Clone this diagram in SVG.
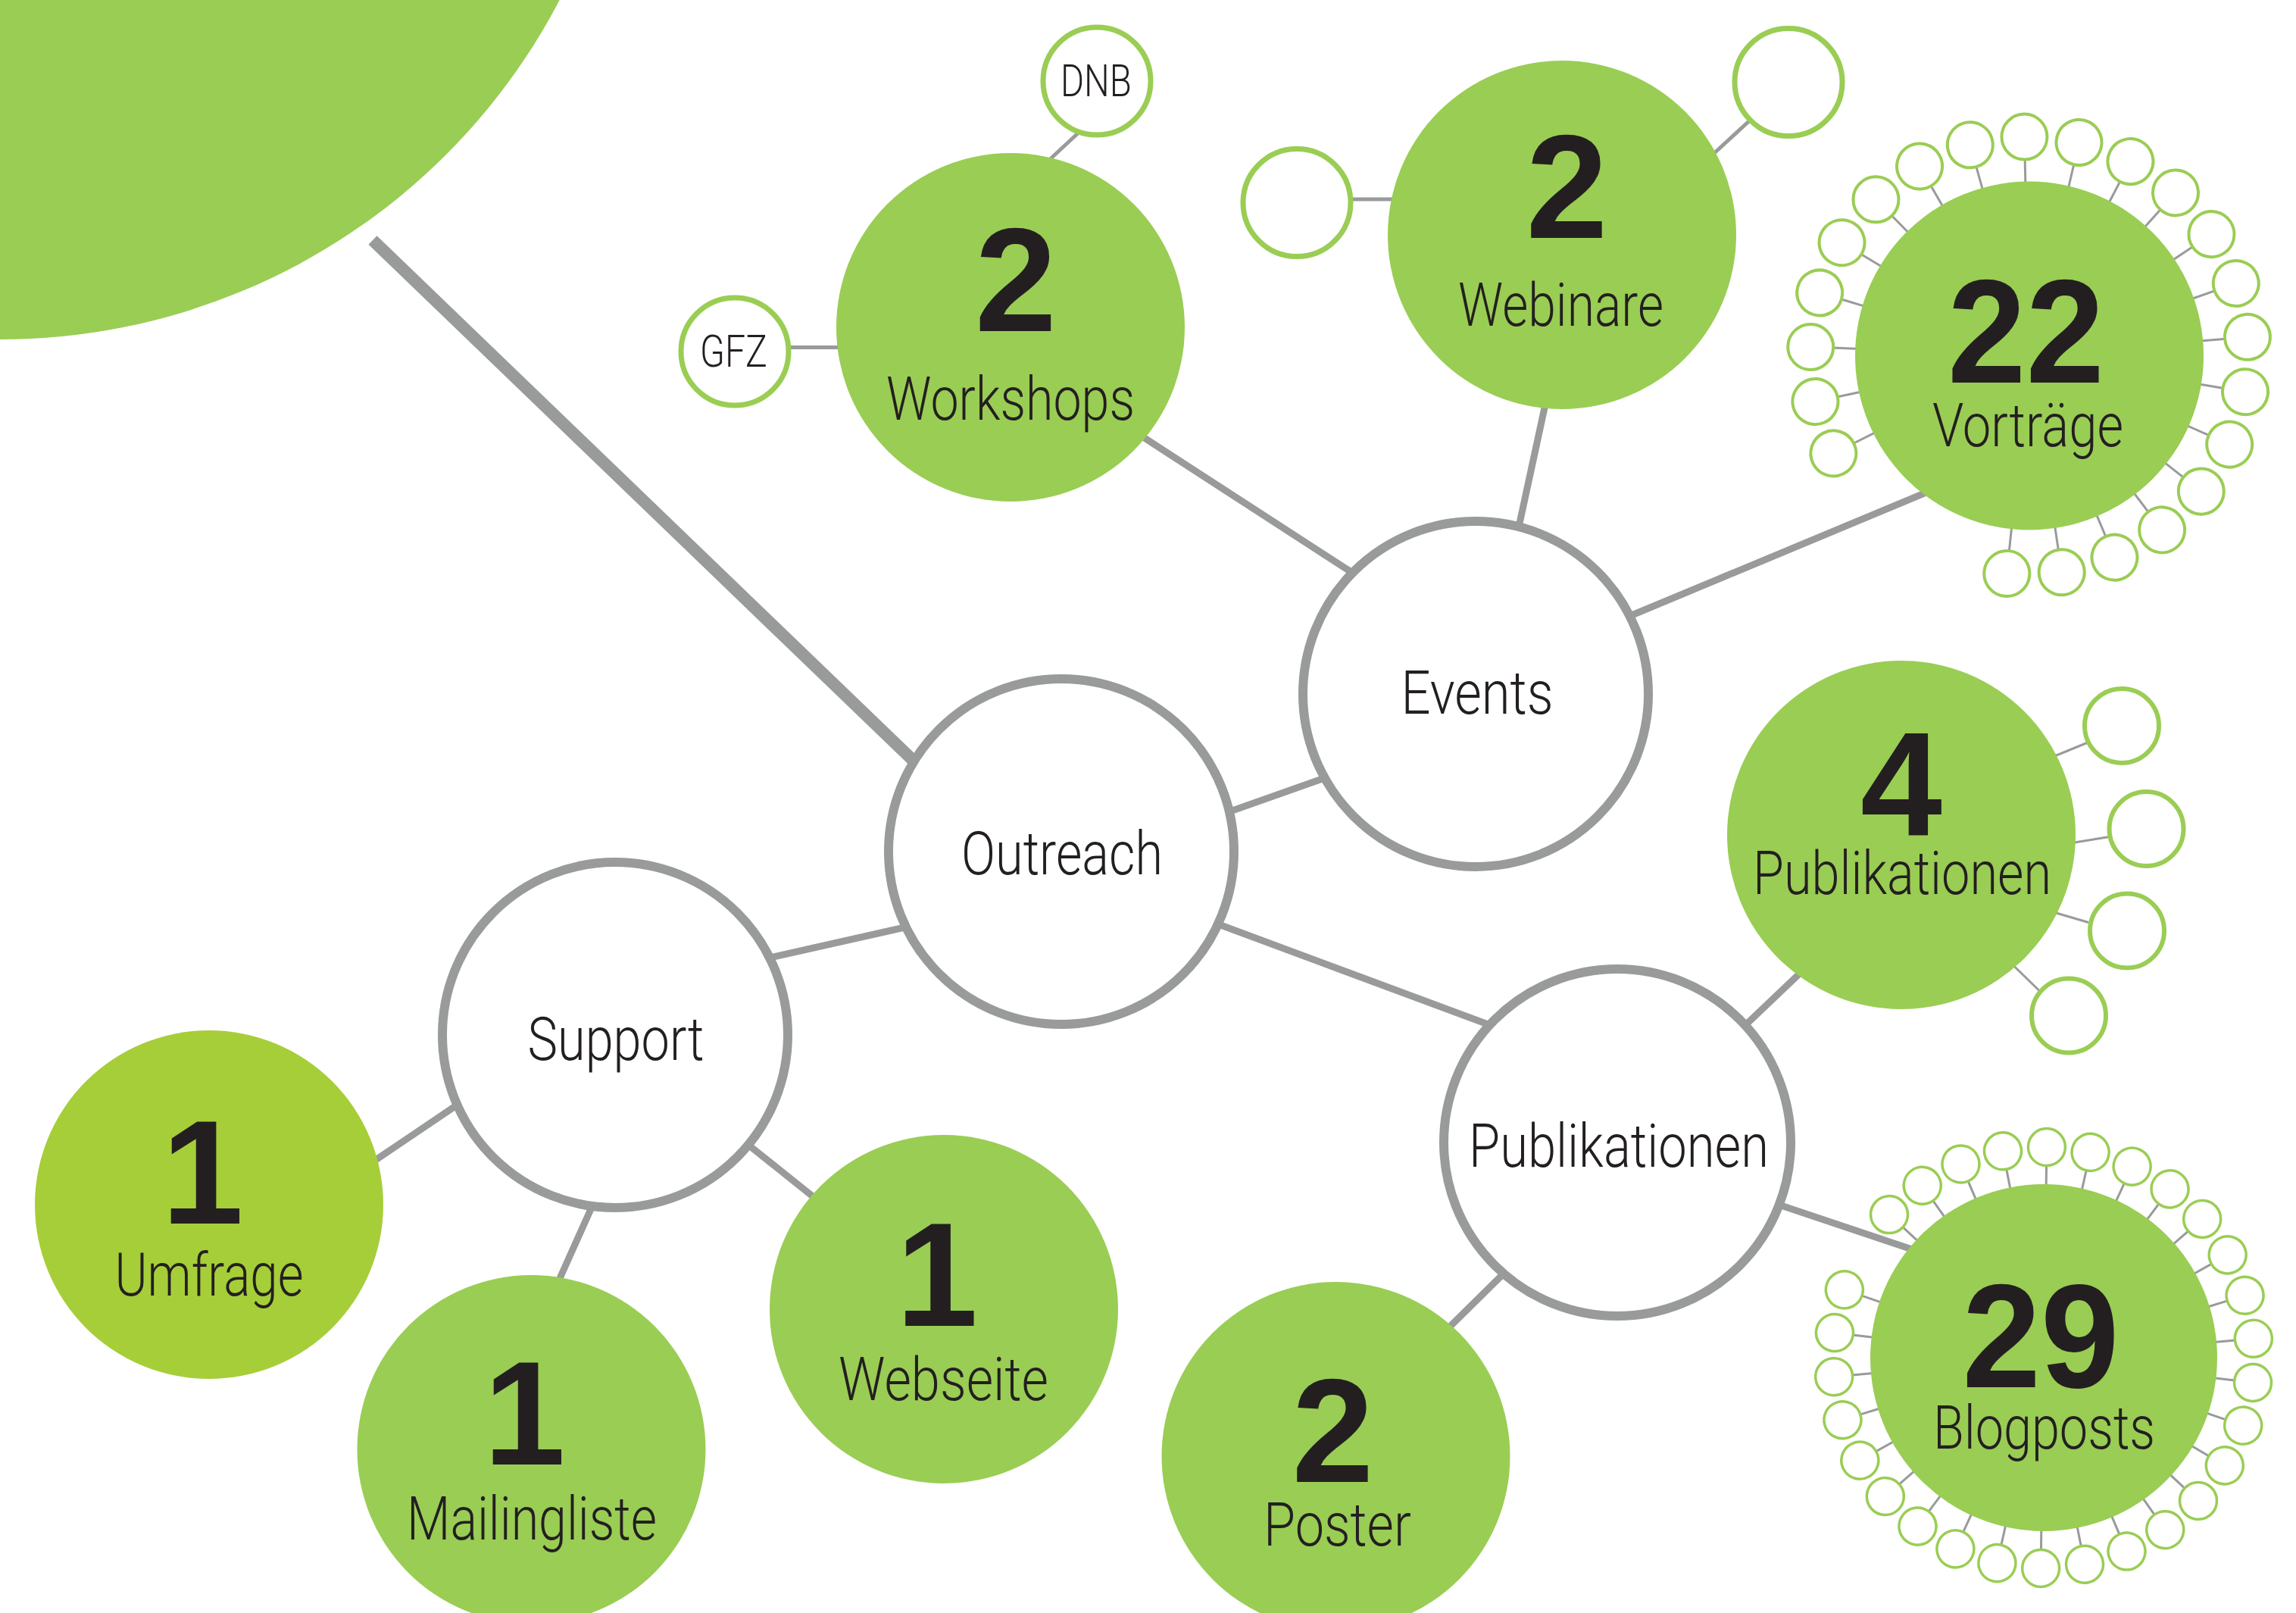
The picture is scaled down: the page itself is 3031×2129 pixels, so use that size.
<svg xmlns="http://www.w3.org/2000/svg" xmlns:xlink="http://www.w3.org/1999/xlink" width="3031" height="2129" viewBox="0 0 3031 2129">
<style>
.bg{fill:#fff}
.green{fill:#9ACD54}
.hub{fill:#fff;stroke:#999A9A;stroke-width:12}
.con{stroke:#999A9A;stroke-width:9;fill:none}
.con-thick{stroke:#999A9A;stroke-width:16;fill:none}
.con-thin{stroke:#999A9A;stroke-width:5;fill:none}
.spoke{stroke:#999A9A;stroke-width:3}
.sat{fill:#fff;stroke:#9ACD54}
.lbl{font-family:Roboto,"Liberation Sans Narrow","Liberation Sans",Arial,sans-serif;font-weight:300;font-size:80px;fill:#231F20;text-anchor:middle}
.num{font-family:"Liberation Sans","DejaVu Sans",Arial,sans-serif;font-weight:bold;font-size:194px;fill:#231F20;text-anchor:middle}
.small{font-family:Roboto,"Liberation Sans Narrow","Liberation Sans",Arial,sans-serif;font-weight:300;font-size:59px;fill:#231F20;text-anchor:middle}
</style>
<defs>
<g id="sat-v"><line class="spoke" x1="224" y1="0" x2="260" y2="0"/><circle class="sat" cx="289" cy="0" r="30" stroke-width="4"/></g>
<g id="sat-b"><line class="spoke" x1="224" y1="0" x2="254" y2="0"/><circle class="sat" cx="278" cy="0" r="24.5" stroke-width="3.5"/></g>
</defs>
<rect class="bg" x="0" y="0" width="3031" height="2129"/>
<circle class="green" cx="0" cy="-385" r="833"/>

<g id="connectors">
<line class="con-thick" x1="492" y1="317" x2="1212" y2="1010"/>
<line class="con" x1="490" y1="1535" x2="607" y2="1456"/>
<line class="con" x1="736" y1="1694" x2="784" y2="1587"/>
<line class="con" x1="984" y1="1508" x2="1079" y2="1584"/>
<line class="con" x1="1012" y1="1265" x2="1199" y2="1223"/>
<line class="con" x1="1621" y1="1072" x2="1754" y2="1025"/>
<line class="con" x1="1606" y1="1219" x2="1975" y2="1356"/>
<line class="con" x1="1500" y1="571" x2="1790" y2="759"/>
<line class="con" x1="2041" y1="529" x2="2004" y2="700"/>
<line class="con" x1="2147" y1="815" x2="2550" y2="647"/>
<line class="con" x1="2300" y1="1357" x2="2382" y2="1279"/>
<line class="con" x1="2345" y1="1589" x2="2527" y2="1650"/>
<line class="con" x1="1910" y1="1755" x2="1988" y2="1678"/>
<line class="con-thin" x1="1040" y1="458.5" x2="1110" y2="458.5"/>
<line class="con-thin" x1="1425" y1="174" x2="1382" y2="214" stroke-width="4"/>
<line class="con-thin" x1="1783" y1="263" x2="1842" y2="263"/>
<line class="con-thin" x1="2311" y1="158" x2="2261" y2="204" stroke-width="4"/>
<line class="spoke" x1="2709.8" y1="999" x2="2755" y2="980.5" stroke-width="3.5"/>
<line class="spoke" x1="2735.7" y1="1112.5" x2="2783" y2="1104.7" stroke-width="3.5"/>
<line class="spoke" x1="2711" y1="1204" x2="2757" y2="1217.5" stroke-width="3.5"/>
<line class="spoke" x1="2657.6" y1="1274" x2="2692" y2="1307.5" stroke-width="3.5"/>
</g>

<g id="node-outreach">
<circle class="hub" cx="1401" cy="1124" r="228"/>
<text class="lbl" x="1402" y="1154" textLength="266" lengthAdjust="spacingAndGlyphs">Outreach</text>
</g>
<g id="node-events">
<circle class="hub" cx="1948" cy="916" r="228"/>
<text class="lbl" x="1950" y="942" textLength="201" lengthAdjust="spacingAndGlyphs">Events</text>
</g>
<g id="node-support">
<circle class="hub" cx="812" cy="1366" r="228"/>
<text class="lbl" x="813" y="1399" textLength="233" lengthAdjust="spacingAndGlyphs">Support</text>
</g>
<g id="node-publikationen">
<circle class="hub" cx="2135" cy="1508" r="229"/>
<text class="lbl" x="2137" y="1540" textLength="396" lengthAdjust="spacingAndGlyphs">Publikationen</text>
</g>

<g id="node-workshops">
<circle class="green" cx="1334" cy="432" r="230"/>
<text class="num" x="1341" y="437">2</text>
<text class="lbl" x="1334" y="554" textLength="328" lengthAdjust="spacingAndGlyphs">Workshops</text>
</g>
<g id="node-gfz">
<circle class="sat" cx="970" cy="464" r="71" stroke-width="7"/>
<text class="small" x="968.4" y="483.5" textLength="89" lengthAdjust="spacingAndGlyphs">GFZ</text>
</g>
<g id="node-dnb">
<circle class="sat" cx="1448" cy="107" r="71" stroke-width="7"/>
<text class="small" x="1447" y="127" textLength="94" lengthAdjust="spacingAndGlyphs">DNB</text>
</g>

<g id="node-webinare">
<circle class="green" cx="2062" cy="310" r="230"/>
<text class="num" x="2068.5" y="314">2</text>
<text class="lbl" x="2060.5" y="430" textLength="271" lengthAdjust="spacingAndGlyphs">Webinare</text>
</g>
<g id="node-webinar-1"><circle class="sat" cx="1712" cy="267.5" r="71" stroke-width="7"/></g>
<g id="node-webinar-2"><circle class="sat" cx="2361" cy="108.5" r="71" stroke-width="7"/></g>

<g id="node-vortraege">
<g transform="translate(2679 469.5)">
<use xlink:href="#sat-v" transform="rotate(-91.3)"/>
<use xlink:href="#sat-v" transform="rotate(-76.9)"/>
<use xlink:href="#sat-v" transform="rotate(-62.5)"/>
<use xlink:href="#sat-v" transform="rotate(-48.1)"/>
<use xlink:href="#sat-v" transform="rotate(-33.7)"/>
<use xlink:href="#sat-v" transform="rotate(-19.3)"/>
<use xlink:href="#sat-v" transform="rotate(-4.9)"/>
<use xlink:href="#sat-v" transform="rotate(9.5)"/>
<use xlink:href="#sat-v" transform="rotate(23.9)"/>
<use xlink:href="#sat-v" transform="rotate(38.3)"/>
<use xlink:href="#sat-v" transform="rotate(52.7)"/>
<use xlink:href="#sat-v" transform="rotate(67.1)"/>
<use xlink:href="#sat-v" transform="rotate(81.5)"/>
<use xlink:href="#sat-v" transform="rotate(95.9)"/>
<use xlink:href="#sat-v" transform="rotate(153.5)"/>
<use xlink:href="#sat-v" transform="rotate(167.9)"/>
<use xlink:href="#sat-v" transform="rotate(182.3)"/>
<use xlink:href="#sat-v" transform="rotate(196.7)"/>
<use xlink:href="#sat-v" transform="rotate(211.1)"/>
<use xlink:href="#sat-v" transform="rotate(225.5)"/>
<use xlink:href="#sat-v" transform="rotate(239.9)"/>
<use xlink:href="#sat-v" transform="rotate(254.3)"/>
</g>
<circle class="green" cx="2679" cy="469.5" r="230"/>
<text class="num" x="2674.5" y="505" textLength="207" lengthAdjust="spacingAndGlyphs">22</text>
<text class="lbl" x="2677" y="589" textLength="252" lengthAdjust="spacingAndGlyphs">Vorträge</text>
</g>

<g id="node-publikationen-4">
<circle class="green" cx="2510" cy="1102" r="230"/>
<text class="num" x="2510" y="1102">4</text>
<text class="lbl" x="2511" y="1180" textLength="394" lengthAdjust="spacingAndGlyphs">Publikationen</text>
</g>
<g id="node-pub-sat-1"><circle class="sat" cx="2801" cy="958" r="49" stroke-width="6"/></g>
<g id="node-pub-sat-2"><circle class="sat" cx="2833.5" cy="1094" r="49" stroke-width="6"/></g>
<g id="node-pub-sat-3"><circle class="sat" cx="2808" cy="1228.5" r="49" stroke-width="6"/></g>
<g id="node-pub-sat-4"><circle class="sat" cx="2731" cy="1340.5" r="49" stroke-width="6"/></g>

<g id="node-blogposts">
<g transform="translate(2698 1792)">
<use xlink:href="#sat-b" transform="rotate(-89.2)"/>
<use xlink:href="#sat-b" transform="rotate(-77.2)"/>
<use xlink:href="#sat-b" transform="rotate(-65.2)"/>
<use xlink:href="#sat-b" transform="rotate(-53.2)"/>
<use xlink:href="#sat-b" transform="rotate(-41.2)"/>
<use xlink:href="#sat-b" transform="rotate(-29.2)"/>
<use xlink:href="#sat-b" transform="rotate(-17.2)"/>
<use xlink:href="#sat-b" transform="rotate(-5.2)"/>
<use xlink:href="#sat-b" transform="rotate(6.8)"/>
<use xlink:href="#sat-b" transform="rotate(18.8)"/>
<use xlink:href="#sat-b" transform="rotate(30.8)"/>
<use xlink:href="#sat-b" transform="rotate(42.8)"/>
<use xlink:href="#sat-b" transform="rotate(54.8)"/>
<use xlink:href="#sat-b" transform="rotate(66.8)"/>
<use xlink:href="#sat-b" transform="rotate(78.8)"/>
<use xlink:href="#sat-b" transform="rotate(90.8)"/>
<use xlink:href="#sat-b" transform="rotate(102.8)"/>
<use xlink:href="#sat-b" transform="rotate(114.8)"/>
<use xlink:href="#sat-b" transform="rotate(126.8)"/>
<use xlink:href="#sat-b" transform="rotate(138.8)"/>
<use xlink:href="#sat-b" transform="rotate(150.8)"/>
<use xlink:href="#sat-b" transform="rotate(162.8)"/>
<use xlink:href="#sat-b" transform="rotate(174.8)"/>
<use xlink:href="#sat-b" transform="rotate(186.8)"/>
<use xlink:href="#sat-b" transform="rotate(198.8)"/>
<use xlink:href="#sat-b" transform="rotate(222.8)"/>
<use xlink:href="#sat-b" transform="rotate(234.8)"/>
<use xlink:href="#sat-b" transform="rotate(246.8)"/>
<use xlink:href="#sat-b" transform="rotate(258.8)"/>
</g>
<circle class="green" cx="2698" cy="1792" r="229"/>
<text class="num" x="2694" y="1831" textLength="207" lengthAdjust="spacingAndGlyphs">29</text>
<text class="lbl" x="2698.5" y="1912" textLength="293" lengthAdjust="spacingAndGlyphs">Blogposts</text>
</g>

<g id="node-poster">
<circle class="green" cx="1763.5" cy="1922" r="230"/>
<text class="num" x="1759.5" y="1956">2</text>
<text class="lbl" x="1765.5" y="2040" textLength="195" lengthAdjust="spacingAndGlyphs">Poster</text>
</g>
<g id="node-webseite">
<circle class="green" cx="1246" cy="1728" r="230"/>
<text class="num" x="1237" y="1750">1</text>
<text class="lbl" x="1245.5" y="1848" textLength="277" lengthAdjust="spacingAndGlyphs">Webseite</text>
</g>
<g id="node-mailingliste">
<circle class="green" cx="701.5" cy="1913" r="230"/>
<text class="num" x="692.5" y="1933">1</text>
<text class="lbl" x="702" y="2032" textLength="330" lengthAdjust="spacingAndGlyphs">Mailingliste</text>
</g>
<g id="node-umfrage">
<circle cx="276" cy="1590" r="230" fill="#A6CE39"/>
<text class="num" x="267.5" y="1615">1</text>
<text class="lbl" x="276" y="1710" textLength="249" lengthAdjust="spacingAndGlyphs">Umfrage</text>
</g>
</svg>
